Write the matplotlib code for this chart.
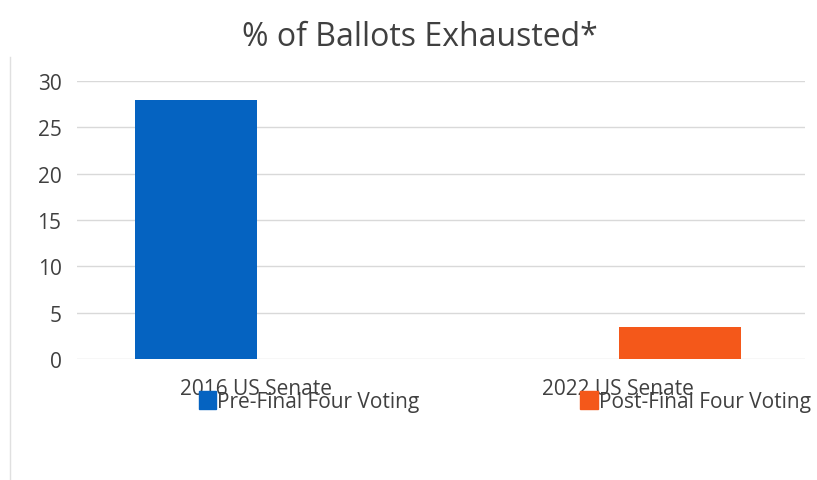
import matplotlib.pyplot as plt
from matplotlib.patches import Patch
from matplotlib.transforms import ScaledTranslation

categories = ['2016 US Senate', '2022 US Senate']
values = [27.9, 3.5]
colors = ['#0563c1', '#f4581a']
series = ['Pre-Final Four Voting', 'Post-Final Four Voting']
yticks = [0, 5, 10, 15, 20, 25, 30]

plt.rcParams['font.family'] = ['Open Sans', 'DejaVu Sans']

fig = plt.figure(figsize=(8.17, 4.81), dpi=100)
ax = fig.add_axes([0.094, 0.2516, 0.891, 0.5779])

xs = list(range(len(categories)))
ax.bar(xs, values, width=0.252, color=colors, zorder=3)

ax.set_xlim(-0.246, 1.258)
ax.set_ylim(0, 30)
ax.set_yticks(yticks)
ax.set_xticks(xs)
ax.set_xticklabels(categories)
ax.tick_params(axis='both', length=0, labelsize=15, colors='#404040')
ax.tick_params(axis='x', pad=14)
ax.tick_params(axis='y', pad=11)
ax.grid(axis='y', color='#d9d9d9', linewidth=1, zorder=0)
for s in ax.spines.values():
    s.set_visible(False)

# in the scanned chart the category labels sit off-centre from their bars
for lab, dx in zip(ax.get_xticklabels(), [0.60, -0.62]):
    lab.set_transform(lab.get_transform() + ScaledTranslation(dx, 0, fig.dpi_scale_trans))

fig.text(0.514, 0.923, '% of Ballots Exhausted*', ha='center', va='center',
         fontsize=23, color='#404040')

handles = [Patch(color=c) for c in colors]
leg = fig.legend(handles, series, loc='center left', bbox_to_anchor=(0.243, 0.164), ncol=2,
                 frameon=False, fontsize=15, handlelength=0.85, handleheight=0.95,
                 handletextpad=0.05, columnspacing=7.7, borderpad=0, borderaxespad=0)
for t in leg.get_texts():
    t.set_color('#404040')

# faint frame of the scanned chart
fig.add_artist(plt.Line2D([0.012, 0.012], [0, 0.88], color='#e0e0e0', linewidth=1))

fig.savefig('out.png', dpi=100, facecolor='white')
